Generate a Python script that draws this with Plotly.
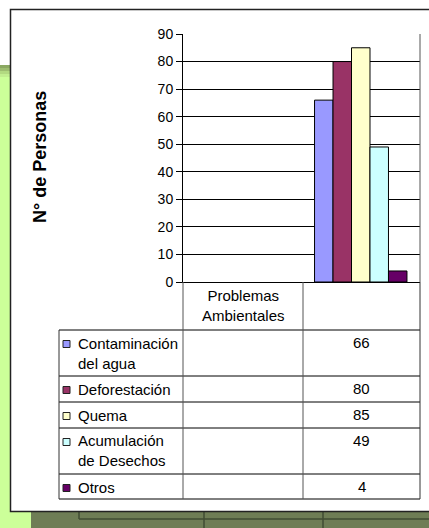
import plotly.graph_objects as go

# ---- data ----
categories = ["Problemas Ambientales", " "]
series_names = ["Contaminación del agua", "Deforestación", "Quema",
                "Acumulación de Desechos", "Otros"]
series_labels = ["Contaminación<br>del agua", "Deforestación", "Quema",
                 "Acumulación<br>de Desechos", "Otros"]
values_problemas = [None, None, None, None, None]
values_blank = [66, 80, 85, 49, 4]
series_colors = ["#9999FF", "#993366", "#FFFFCC", "#CCFFFF", "#660066"]
y_ticks = [0, 10, 20, 30, 40, 50, 60, 70, 80, 90]
y_title = "N° de Personas"

W, H = 429, 528
L, R, T, B = 183, 420, 34, 282
FONT = "Liberation Sans, Arial, sans-serif"


def px(x):
    return (x - L) / (R - L)


def py(y):
    return (B - y) / (B - T)


fig = go.Figure()
for name, c, v1, v2 in zip(series_names, series_colors, values_problemas, values_blank):
    fig.add_trace(go.Bar(x=categories, y=[v1, v2], name=name,
                         marker=dict(color=c, line=dict(color="black", width=1))))

shapes = []


def rect(x0, y0, x1, y1, fill, line=None, lw=0, layer="below"):
    shapes.append(dict(type="rect", xref="paper", yref="paper",
                       x0=px(x0), x1=px(x1), y0=py(y0), y1=py(y1),
                       fillcolor=fill, layer=layer,
                       line=dict(color=line or fill, width=lw)))


def hline(x0, x1, y, color="black", w=1, layer="above"):
    shapes.append(dict(type="line", xref="paper", yref="paper",
                       x0=px(x0), x1=px(x1), y0=py(y), y1=py(y),
                       line=dict(color=color, width=w), layer=layer))


def vline(x, y0, y1, color="black", w=1, layer="above"):
    shapes.append(dict(type="line", xref="paper", yref="paper",
                       x0=px(x), x1=px(x), y0=py(y0), y1=py(y1),
                       line=dict(color=color, width=w), layer=layer))


# background: green strip, olive base with ghost table
rect(0, 65, 40, 528, "#CCFF99")
rect(0, 65, 40, 68, "#8BA862")
rect(0, 68, 40, 71, "#9DBD70")
rect(0, 71, 40, 74, "#B2D981")
rect(0, 74, 40, 77, "#C2EE90")
rect(31, 500, 440, 528, "#6E7D55")
hline(79, 440, 519, "#414C33", 1.5, "below")
vline(79, 505, 519, "#414C33", 1.5, "below")
vline(204, 505, 528, "#414C33", 1.5, "below")
vline(323, 505, 528, "#414C33", 1.5, "below")
# white chart box
rect(10.5, 9.5, 440, 511.5, "white", "#222222", 1.5)

# right plot border
vline(420, T, B, "#555555", 1)

# data table lines
row_lines = [330, 376, 402, 428, 474, 499]
for y in row_lines:
    hline(59, 420, y, "black", 1)
vline(59, 330, 499, "#333333", 1)
vline(183, B, 499, "#555555", 1)
vline(303, B, 499, "#555555", 1)
vline(420, B, 499, "#333333", 1)

annotations = []
annotations.append(dict(xref="paper", yref="paper", x=px(243), y=py(305),
                        text="Problemas<br>Ambientales", showarrow=False,
                        font=dict(family=FONT, size=15, color="black"),
                        xanchor="center", yanchor="middle", align="center"))
row_tops = row_lines[:-1]
for lab, c, v, top in zip(series_labels, series_colors, values_blank, row_tops):
    first_center = top + 14
    annotations.append(dict(xref="paper", yref="paper", x=px(76), y=py(top + 2.5),
                            text=lab, showarrow=False, align="left",
                            font=dict(family=FONT, size=15, color="black"),
                            xanchor="left", yanchor="top"))
    rect(63, first_center - 3.5, 70, first_center + 3.5, c, "#222222", 1, "above")
    annotations.append(dict(xref="paper", yref="paper", x=px(361.5), y=py(top + 1.5),
                            text=str(v), showarrow=False,
                            font=dict(family=FONT, size=15, color="black"),
                            xanchor="center", yanchor="top"))

annotations.append(dict(xref="paper", yref="paper", x=px(40), y=py(157),
                        text="<b>" + y_title + "</b>", showarrow=False, textangle=-90,
                        font=dict(family=FONT, size=18, color="black"),
                        xanchor="center", yanchor="middle"))

fig.update_layout(
    width=W, height=H,
    margin=dict(l=L, r=W - R, t=T, b=H - B, pad=0),
    paper_bgcolor="white", plot_bgcolor="white",
    barmode="group", bargap=0.22, bargroupgap=0,
    showlegend=False,
    shapes=shapes, annotations=annotations,
    font=dict(family=FONT, size=14, color="black"),
    xaxis=dict(type="category", categoryorder="array", categoryarray=categories,
               range=[-0.5, 1.5], showticklabels=False, ticks="",
               showline=True, linecolor="black", linewidth=1, showgrid=False,
               fixedrange=True),
    yaxis=dict(range=[0, 90], tickvals=y_ticks, ticks="outside", ticklen=6,
               tickcolor="black", tickwidth=1, showline=True, linecolor="black",
               linewidth=1, showgrid=True, gridcolor="black", gridwidth=1,
               zeroline=False, tickfont=dict(family=FONT, size=14, color="black"),
               fixedrange=True),
)

fig.write_html(
    "out.html",
    config={"displayModeBar": False},
    post_script="document.body.style.margin='0px';document.body.style.overflow='hidden';",
)
